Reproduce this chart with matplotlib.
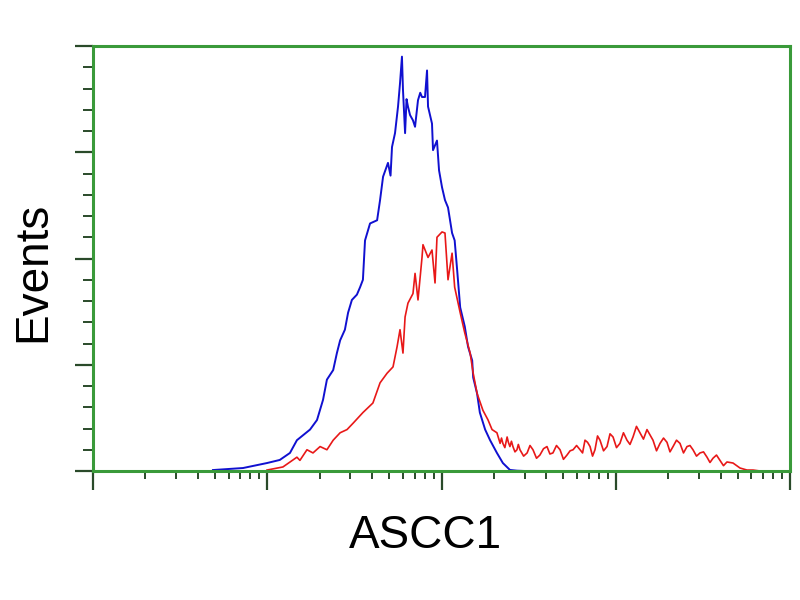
import numpy as np
import matplotlib
matplotlib.use("Agg")
import matplotlib.pyplot as plt
from matplotlib.ticker import LogLocator, MultipleLocator, NullFormatter

plt.rcParams['font.family'] = ['Liberation Sans', 'DejaVu Sans']

# Blue histogram (control), intensity vs events
blue_x = [4.88, 7.26, 9.97, 11.8, 13.5, 14.8, 17.6, 19.3, 20.9, 22.0, 23.9, 25.1, 26.2,
          27.9, 29.1, 30.6, 32.7, 34.1, 35.4, 36.4, 38.9, 42.7, 44.4, 46.2, 49.3, 51.0,
          52.0, 54.1, 56.3, 57.8, 59.3, 60.1, 61.8, 63.0, 64.2, 66.0, 68.6, 70.5, 73.3,
          75.5, 77.3, 80.4, 82.6, 83.7, 88.2, 89.4, 94.2, 96.8, 100.7, 104.7, 109, 115,
          119, 123, 128, 136, 142, 150, 152, 160, 166, 178, 190, 208, 225, 247, 271, 301]
blue_y = [0.9, 2.8, 7.5, 10.4, 17, 29, 39, 48, 67, 86, 95, 111, 123,
          133, 149, 161, 166, 173, 180, 217, 233, 236, 255, 277, 290, 278,
          305, 318, 343, 365, 390, 359, 318, 350, 343, 335, 330, 324, 349,
          356, 352, 352, 377, 343, 327, 302, 311, 283, 267, 255, 248, 224,
          217, 189, 154, 136, 117, 104, 88, 73, 55, 39, 29, 17, 7.5, 1, 0.3, 0]

# Red histogram (ASCC1 stained)
red_x = [9.97, 12.3, 14.8, 15.4, 16.9, 18.3, 20.1, 22.0, 23.9, 26.2, 28.7, 31.1, 35.4,
         40.4, 44.4, 48.7, 52.7, 55.6, 57.8, 60.1, 61.8, 64.2, 68.6, 70.5, 73.3, 77.3,
         78.3, 83.7, 88.2, 91.8, 94.2, 100.7, 104.7, 109, 115, 119, 128, 136, 146, 152,
         160, 173, 185, 195, 208,
         217, 221, 225, 231, 238, 242, 247, 252, 257, 264, 271, 276, 282, 296, 310, 322,
         335, 351, 367, 385, 403, 419, 436, 457, 479, 501, 525, 547, 569, 596, 624, 645,
         666, 689, 712, 736, 760, 786, 812, 851, 891, 927, 965, 1010, 1057, 1107, 1160,
         1207, 1256, 1315, 1377, 1442, 1511, 1572, 1636, 1714, 1795, 1880, 1968, 2048,
         2132, 2232, 2337, 2448, 2564, 2667, 2775, 2907, 3045, 3189, 3340, 3474, 3614,
         3785, 3964, 4152, 4348, 4710, 5165, 5665, 6137, 6730]
red_y = [0.9, 3.8, 13, 10, 20, 17, 23, 20, 29, 36, 39, 45, 55,
         64, 83, 92, 98, 117, 133, 111, 145, 158, 167, 186, 161, 201,
         213, 201, 208, 177, 220, 225, 224, 180, 205, 173, 149, 130, 111, 92,
         73, 57, 48, 39, 36,
         26, 31, 26, 22, 32, 27, 23, 28, 23, 18, 20, 25, 20, 14, 17, 24,
         20, 12, 15, 21, 23, 16, 17, 24, 20, 11, 15, 19, 20, 24, 20, 17,
         29, 27, 23, 14, 20, 33, 29, 19, 23, 35, 32, 22, 26, 36, 29,
         25, 32, 42, 36, 30, 39, 34, 29, 19, 26, 31, 27, 18,
         23, 29, 26, 17, 23, 24, 20, 14, 17, 18, 13, 8, 12,
         15, 10, 5, 8.5, 7.5, 2.8, 0.9, 0.9, 0]

green = '#3a9a3a'
tick_col = '#2a4a2a'

fig = plt.figure(figsize=(8, 6), dpi=100)
ax = fig.add_axes([0.11625, 0.215, 0.87125, 0.7083])

ax.plot(blue_x, blue_y, color='#1010d0', lw=1.4)
ax.plot(red_x, red_y, color='#e81818', lw=1.2)

ax.set_xscale('log')
ax.set_xlim(1, 10**4)
ax.set_ylim(0, 400)

for s in ax.spines.values():
    s.set_color(green)
    s.set_linewidth(2.2)

ax.xaxis.set_major_locator(LogLocator(base=10, numticks=10))
ax.xaxis.set_minor_locator(LogLocator(base=10, subs=np.arange(2, 10), numticks=20))
ax.xaxis.set_minor_formatter(NullFormatter())
ax.yaxis.set_major_locator(MultipleLocator(100))
ax.yaxis.set_minor_locator(MultipleLocator(20))

ax.tick_params(which='both', direction='out', color=tick_col,
               labelleft=False, labelbottom=False)
ax.tick_params(axis='x', which='major', length=14, width=1.6)
ax.tick_params(axis='x', which='minor', length=6, width=1.4)
ax.tick_params(axis='y', which='major', length=13, width=1.6)
ax.tick_params(axis='y', which='minor', length=7, width=1.4)

fig.text(33 / 800, 1 - 272 / 600, 'Events', rotation=90, ha='center', va='center',
         fontsize=33)
fig.text(425 / 800, 1 - 536 / 600, 'ASCC1', ha='center', va='center', fontsize=33)

fig.savefig('out.png', dpi=100)
